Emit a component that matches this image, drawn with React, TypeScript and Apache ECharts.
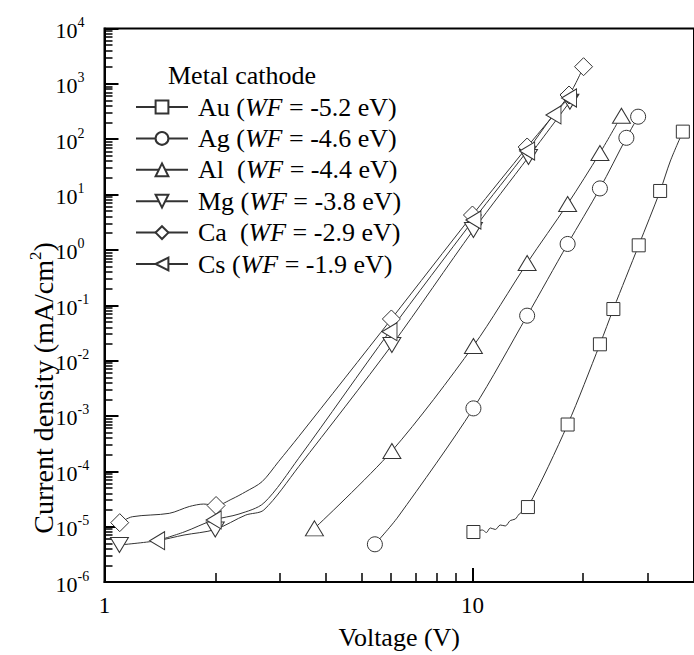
import React, { useEffect, useRef } from "react";
import * as echarts from "echarts";

const FONT = "Liberation Serif";

// Axis ticks / labels
const X_LABEL_VALUES = [1, 10];
const X_MINOR_TICK_VALUES = [2, 3, 4, 5, 6, 7, 8, 9, 20, 30];
const X_MAX = 40;
const Y_DECADES = [-6, -5, -4, -3, -2, -1, 0, 1, 2, 3, 4];
const Y_MINOR_MULT = [2, 3, 4, 5, 6, 7, 8, 9];

// Series: marker points (V, J) and unmarked path points
const AU_V = [10.06, 14.15, 18.14, 22.2, 24.15, 28.3, 32.36, 37.3];
const AU_J = [8.0e-6, 2.26e-5, 7.0e-4, 0.0197, 0.0855, 1.21, 11.6, 137];
const AU_PATH_V = [10.64, 10.91, 11.18, 11.54, 11.9, 12.28, 12.67, 13.07, 13.4, 34.5];
const AU_PATH_J = [8.7e-6, 7.83e-6, 9.46e-6, 8.89e-6, 1.07e-5, 1.03e-5, 1.29e-5, 1.37e-5, 1.69e-5, 40.4];

const AG_V = [5.43, 10.06, 14.08, 18.14, 22.2, 26.2, 28.2];
const AG_J = [4.8e-6, 1.37e-3, 0.0648, 1.28, 12.9, 106, 255];
const AG_PATH_V = [6.27];
const AG_PATH_J = [1.49e-5];

const AL_V = [3.72, 6.04, 10.06, 14.08, 18.14, 22.2, 25.4];
const AL_J = [9.3e-6, 2.33e-4, 0.0184, 0.58, 6.75, 56.3, 265];

const MG_V = [1.098, 2.0, 6.04, 10.06, 14.2, 18.4];
const MG_J = [4.66e-6, 8.9e-6, 0.0191, 2.29, 47.7, 476];
const MG_PATH_V = [1.39, 1.645, 2.42, 2.71, 3.37];
const MG_PATH_J = [5.57e-6, 7.06e-6, 1.62e-5, 2.0e-5, 1.21e-4];

const CA_V = [1.1, 2.01, 6.02, 10.0, 14.08, 18.3, 20.04];
const CA_J = [1.18e-5, 2.41e-5, 0.0565, 4.27, 72.3, 629, 2042];
const CA_PATH_V = [1.19, 1.5, 1.7, 1.86, 2.22, 2.42, 2.68, 2.97, 3.37];
const CA_PATH_J = [1.51e-5, 1.74e-5, 2.31e-5, 2.56e-5, 3.16e-5, 4.28e-5, 6.49e-5, 1.49e-4, 4.22e-4];

const CS_V = [1.39, 1.98, 5.95, 10.06, 14.08, 16.6, 18.3];
const CS_J = [5.57e-6, 1.32e-5, 0.0333, 3.47, 61, 274, 555];
const CS_PATH_V = [1.645, 2.32, 2.71, 3.37];
const CS_PATH_J = [8.0e-6, 1.69e-5, 2.67e-5, 1.72e-4];

const SERIES_NAMES = ["Au", "Ag", "Al", "Mg", "Ca", "Cs"];
const LEGEND_LABELS: Record<string, string> = {
  Au: "Au ({i|WF} = -5.2 eV)",
  Ag: "Ag ({i|WF} = -4.6 eV)",
  Al: "Al  ({i|WF} = -4.4 eV)",
  Mg: "Mg ({i|WF} = -3.8 eV)",
  Ca: "Ca  ({i|WF} = -2.9 eV)",
  Cs: "Cs ({i|WF} = -1.9 eV)",
};

function build(mv: number[], mj: number[], pv: number[] = [], pj: number[] = []) {
  const pts: { v: number; j: number; m: boolean }[] = [];
  mv.forEach((v, i) => pts.push({ v, j: mj[i], m: true }));
  pv.forEach((v, i) => pts.push({ v, j: pj[i], m: false }));
  pts.sort((a, b) => a.v - b.v);
  return pts.map((p) =>
    p.m
      ? { value: [Math.log10(p.v), Math.log10(p.j)] }
      : { value: [Math.log10(p.v), Math.log10(p.j)], symbol: "none" }
  );
}

const LINE = "#333";

function mkSeries(name: string, data: any[], symbol: string, size: any, rotate = 0) {
  return {
    type: "line",
    name,
    data,
    symbol,
    symbolSize: size,
    symbolRotate: rotate,
    showSymbol: true,
    showAllSymbol: true,
    smooth: 0.3,
    lineStyle: { color: LINE, width: 1 },
    itemStyle: { color: "#fff", borderColor: LINE, borderWidth: 1 },
    emphasis: { disabled: true },
  };
}

export default function App() {
  const ref = useRef<HTMLDivElement>(null);
  useEffect(() => {
    if (!ref.current) return;
    const chart = echarts.init(ref.current, null, { renderer: "svg" });
    const xMax = Math.log10(X_MAX);
    const yMinor: number[] = [];
    Y_DECADES.slice(0, -1).forEach((n) => Y_MINOR_MULT.forEach((k) => yMinor.push(n + Math.log10(k))));
    const tickStyle = { color: "#000", width: 2 };
    chart.setOption({
      animation: false,
      backgroundColor: "#fff",
      grid: {
        left: 104.5,
        top: 28.5,
        width: 592.8,
        height: 553.5,
        show: true,
        borderColor: "#000",
        borderWidth: 2,
        backgroundColor: "transparent",
      },
      xAxis: [
        {
          type: "value",
          min: 0,
          max: xMax,
          axisLine: { show: true, onZero: false, lineStyle: { color: "#000", width: 2 } },
          axisTick: { show: true, inside: true, length: 14, customValues: X_LABEL_VALUES.map(Math.log10), lineStyle: tickStyle },
          axisLabel: {
            customValues: X_LABEL_VALUES.map(Math.log10),
            formatter: (v: number) => String(Math.round(Math.pow(10, v))),
            fontFamily: FONT,
            fontSize: 23,
            color: "#000",
            margin: 12,
          },
          splitLine: { show: false },
          name: "Voltage (V)",
          nameLocation: "middle",
          nameGap: 42,
          nameTextStyle: { fontFamily: FONT, fontSize: 26, color: "#000" },
        },
        {
          type: "value",
          min: 0,
          max: xMax,
          position: "bottom",
          axisLine: { show: false, onZero: false },
          axisTick: { show: true, inside: true, length: 9, customValues: X_MINOR_TICK_VALUES.map(Math.log10), lineStyle: { color: "#000", width: 1.5 } },
          axisLabel: { show: false },
          splitLine: { show: false },
        },
      ],
      yAxis: [
        {
          type: "value",
          min: -6,
          max: 4,
          axisLine: { show: true, onZero: false, lineStyle: { color: "#000", width: 2 } },
          axisTick: { show: true, inside: true, length: 14, customValues: Y_DECADES, lineStyle: tickStyle },
          axisLabel: {
            customValues: Y_DECADES,
            formatter: (v: number) => "{b|10}{s|" + Math.round(v) + "}",
            align: "left",
            margin: 49,
            color: "#000",
            rich: {
              b: { fontFamily: FONT, fontSize: 22, color: "#000", lineHeight: 26, verticalAlign: "bottom" },
              s: { fontFamily: FONT, fontSize: 14, color: "#000", lineHeight: 26, verticalAlign: "top" },
            },
          },
          splitLine: { show: false },
        },
        {
          type: "value",
          min: -6,
          max: 4,
          position: "left",
          axisLine: { show: false, onZero: false },
          axisTick: { show: true, inside: true, length: 8, customValues: yMinor, lineStyle: { color: "#000", width: 1.5 } },
          axisLabel: { show: false },
          splitLine: { show: false },
        },
      ],
      legend: {
        orient: "vertical",
        left: 135,
        top: 94,
        padding: 0,
        itemWidth: 52,
        itemHeight: 16,
        itemGap: 5.4,
        selectedMode: false,
        data: SERIES_NAMES,
        formatter: (name: string) => LEGEND_LABELS[name],
        textStyle: {
          fontFamily: FONT,
          fontSize: 26,
          color: "#000",
          lineHeight: 24,
          padding: [0, 0, 0, 5],
          rich: { i: { fontFamily: FONT, fontSize: 26, fontStyle: "italic", color: "#000", lineHeight: 24 } },
        },
      },
      graphic: [
        {
          type: "text",
          x: 168,
          y: 75,
          style: { text: "Metal cathode", fontFamily: FONT, fontSize: 26, fill: "#000", align: "left", verticalAlign: "middle" },
        },
        {
          type: "text",
          x: 42,
          y: 388,
          rotation: Math.PI / 2,
          style: {
            text: "{a|Current density (mA/cm}{s|2}{a|)}",
            align: "center",
            verticalAlign: "middle",
            rich: {
              a: { fontFamily: FONT, fontSize: 28, fill: "#000", lineHeight: 30, verticalAlign: "bottom" },
              s: { fontFamily: FONT, fontSize: 17, fill: "#000", lineHeight: 30, verticalAlign: "top" },
            },
          },
        },
      ],
      series: [
        mkSeries("Au", build(AU_V, AU_J, AU_PATH_V, AU_PATH_J), "rect", 13),
        mkSeries("Ag", build(AG_V, AG_J, AG_PATH_V, AG_PATH_J), "circle", 15),
        mkSeries("Al", build(AL_V, AL_J), "triangle", [18, 15]),
        mkSeries("Mg", build(MG_V, MG_J, MG_PATH_V, MG_PATH_J), "triangle", [18, 15], 180),
        mkSeries("Ca", build(CA_V, CA_J, CA_PATH_V, CA_PATH_J), "diamond", 18),
        mkSeries("Cs", build(CS_V, CS_J, CS_PATH_V, CS_PATH_J), "triangle", [18, 15], 90),
      ],
    });
    return () => chart.dispose();
  }, []);
  return <div ref={ref} style={{ position: "absolute", left: 0, top: 0, width: 694, height: 655, background: "#fff" }} />;
}
